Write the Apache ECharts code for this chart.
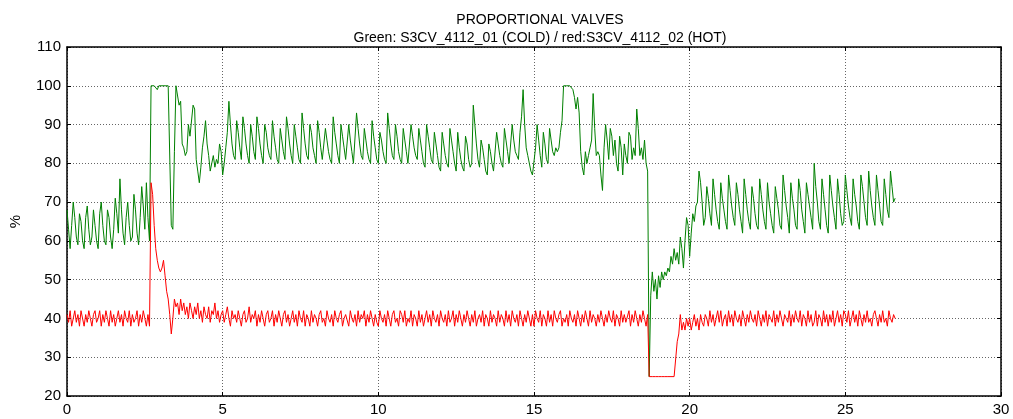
<!DOCTYPE html>
<html>
    <head>
        <meta charset="utf-8">
        <script src="https://cdn.jsdelivr.net/npm/echarts@6.0.0/dist/echarts.min.js"></script>
    </head>
    <body style="margin:0">
        <div id="main" style="width: 1013px; height: 419px;"></div>
        <script>
            // both signals are logged every 0.05 units of x; one row of 20 per unit
            var STEP = 0.05;

            // green: S3CV_4112_01 (COLD)
            var greenValues = [
                68, 63, 58, 64, 70, 66, 61, 59, 67, 65, 60, 58, 66, 69, 63, 59, 61, 68, 64, 60,
                58, 67, 70, 64, 60, 59, 68, 66, 61, 58, 63, 71, 67, 62, 76, 68, 62, 59, 66, 70,
                64, 60, 61, 72, 68, 62, 59, 66, 74, 69, 63, 75, 66, 60, 100, 100, 100, 100, 99, 100,
                100, 100, 100, 100, 100, 100, 100, 64, 63, 83, 100, 100, 95, 96, 85, 84, 82, 83, 90, 87,
                87, 95, 94, 81, 78, 75, 79, 84, 87, 91, 85, 82, 78, 80, 82, 79, 81, 80, 85, 83,
                77, 80, 84, 88, 96, 90, 85, 82, 81, 91, 88, 84, 81, 92, 89, 85, 82, 80, 90, 87,
                83, 81, 92, 89, 85, 82, 80, 90, 88, 84, 82, 81, 91, 87, 84, 81, 80, 89, 86, 83,
                81, 92, 89, 85, 82, 80, 90, 87, 84, 81, 80, 93, 89, 85, 82, 81, 90, 88, 84, 82,
                80, 91, 88, 84, 81, 81, 89, 86, 83, 81, 80, 92, 88, 85, 82, 80, 90, 87, 84, 81,
                81, 90, 86, 83, 80, 80, 93, 89, 85, 82, 81, 89, 86, 83, 81, 80, 91, 87, 84, 81,
                80, 88, 86, 83, 81, 80, 93, 89, 85, 82, 81, 90, 87, 83, 81, 80, 89, 86, 83, 80,
                80, 90, 87, 84, 82, 81, 89, 86, 83, 80, 79, 90, 87, 84, 81, 80, 88, 85, 82, 79,
                78, 88, 85, 82, 80, 79, 89, 86, 83, 80, 78, 88, 84, 81, 79, 78, 87, 85, 81, 79,
                80, 95, 90, 85, 81, 79, 86, 84, 81, 78, 77, 85, 83, 80, 78, 78, 88, 85, 82, 80,
                79, 89, 86, 83, 80, 80, 90, 86, 83, 82, 81, 88, 92, 99, 90, 84, 82, 80, 78, 77,
                77, 84, 90, 86, 82, 79, 88, 85, 81, 80, 89, 86, 83, 82, 84, 83, 84, 88, 91, 100,
                100, 100, 100, 100, 100, 99, 97, 94, 97, 93, 83, 79, 77, 83, 80, 82, 84, 86, 98, 89,
                82, 83, 82, 77, 73, 84, 90, 86, 81, 89, 87, 82, 86, 80, 78, 87, 84, 77, 85, 82,
                80, 88, 87, 81, 84, 82, 94, 89, 82, 84, 81, 86, 80, 78, 25, 46, 52, 47, 50, 45,
                51, 48, 52, 50, 52, 51, 53, 52, 56, 54, 58, 55, 57, 54, 61, 58, 53, 60, 66, 64,
                56, 62, 67, 65, 69, 70, 78, 75, 70, 64, 66, 74, 71, 67, 64, 76, 72, 68, 65, 63,
                75, 71, 68, 65, 63, 77, 73, 69, 66, 64, 75, 72, 68, 65, 62, 76, 72, 68, 65, 63,
                74, 71, 67, 64, 63, 76, 72, 68, 65, 63, 75, 70, 67, 64, 62, 74, 71, 68, 64, 63,
                77, 73, 69, 66, 62, 75, 71, 68, 64, 63, 76, 73, 68, 65, 62, 75, 72, 69, 66, 63,
                80, 74, 70, 65, 63, 76, 72, 68, 64, 62, 77, 73, 69, 66, 63, 76, 72, 67, 64, 65,
                77, 73, 69, 66, 64, 76, 72, 69, 65, 63, 77, 74, 70, 66, 64, 78, 73, 69, 66, 64,
                77, 73, 69, 65, 64, 76, 72, 68, 66, 78, 74, 70, 71
            ];

            // red: S3CV_4112_02 (HOT)
            var redValues = [
                41, 39, 42, 38, 40, 42, 39, 41, 38, 42, 40, 38, 41, 39, 42, 40, 38, 41, 42, 39,
                40, 42, 38, 41, 39, 42, 40, 38, 42, 39, 41, 38, 40, 42, 39, 41, 38, 42, 40, 39,
                42, 38, 41, 39, 40, 42, 38, 41, 39, 42, 40, 38, 41, 38, 75, 72, 64, 58, 55, 53,
                52, 53, 55, 51, 47, 45, 41, 36, 40, 45, 43, 44, 41, 45, 42, 44, 41, 43, 40, 44,
                42, 40, 43, 41, 44, 40, 42, 39, 43, 41, 40, 43, 39, 42, 41, 44, 40, 42, 39, 41,
                42, 39, 41, 43, 40, 38, 42, 40, 41, 39, 42, 40, 38, 41, 42, 39, 40, 43, 39, 41,
                40, 42, 38, 41, 39, 42, 40, 38, 41, 42, 39, 40, 42, 38, 41, 39, 42, 40, 38, 41,
                42, 39, 41, 38, 40, 42, 39, 41, 38, 42, 40, 39, 42, 38, 41, 40, 38, 42, 39, 41,
                40, 38, 41, 42, 39, 40, 38, 42, 40, 39, 41, 38, 42, 40, 39, 41, 42, 38, 40, 41,
                41, 38, 42, 40, 39, 41, 38, 42, 39, 41, 40, 42, 38, 41, 39, 42, 40, 38, 41, 39,
                38, 42, 40, 39, 41, 38, 42, 40, 38, 41, 42, 39, 40, 38, 42, 41, 39, 42, 38, 40,
                39, 42, 38, 41, 40, 38, 42, 39, 41, 38, 40, 42, 39, 41, 38, 42, 40, 39, 41, 38,
                42, 40, 39, 41, 38, 42, 39, 40, 42, 38, 41, 39, 42, 40, 38, 41, 39, 42, 40, 38,
                41, 39, 42, 38, 40, 41, 39, 42, 38, 41, 40, 38, 42, 39, 41, 40, 38, 42, 39, 41,
                40, 38, 42, 39, 41, 38, 42, 40, 39, 41, 38, 42, 40, 38, 41, 39, 42, 40, 38, 41,
                38, 42, 40, 39, 42, 38, 41, 40, 38, 42, 39, 41, 38, 42, 40, 39, 41, 42, 38, 40,
                39, 41, 38, 42, 40, 39, 41, 38, 42, 40, 38, 41, 39, 42, 40, 38, 42, 39, 41, 40,
                38, 41, 39, 42, 40, 38, 41, 39, 42, 40, 39, 42, 38, 41, 40, 38, 42, 39, 41, 39,
                39, 42, 38, 41, 39, 42, 40, 38, 41, 39, 42, 40, 38, 41, 25, 25, 25, 25, 25, 25,
                25, 25, 25, 25, 25, 25, 25, 25, 25, 25, 25, 25, 34, 36, 41, 37, 39, 37, 40, 38,
                40, 37, 39, 41, 38, 40, 37, 41, 39, 38, 41, 40, 38, 42, 39, 41, 38, 40, 42, 39,
                42, 38, 40, 41, 38, 42, 39, 41, 38, 42, 40, 39, 41, 38, 42, 40, 38, 41, 39, 42,
                40, 39, 41, 38, 42, 40, 38, 41, 39, 42, 38, 41, 40, 39, 42, 38, 41, 39, 42, 40,
                38, 41, 40, 39, 42, 38, 41, 39, 42, 40, 39, 42, 38, 41, 40, 38, 42, 39, 41, 38,
                39, 42, 38, 41, 40, 38, 42, 39, 41, 38, 41, 39, 42, 38, 40, 42, 39, 41, 38, 42,
                41, 39, 42, 38, 40, 42, 39, 41, 38, 42, 40, 38, 41, 39, 42, 39, 40, 38, 41, 42,
                40, 38, 41, 39, 42, 39, 40, 38, 42, 40, 39, 41, 40
            ];

            var titleLines = ['PROPORTIONAL VALVES', 'Green: S3CV_4112_01 (COLD) / red:S3CV_4112_02 (HOT)'];

            function toPoints(values) {
                var pts = [];
                for (var i = 0; i < values.length; i++) {
                    pts.push([+(i * STEP).toFixed(2), values[i]]);
                }
                return pts;
            }

            var chartDom = document.getElementById('main');
            var myChart = echarts.init(chartDom);
            var font = 'Liberation Sans, Arial, sans-serif';
            var tick = { inside: true, length: 4, lineStyle: { color: '#000', width: 1 } };
            var axisLine = { show: true, onZero: false, lineStyle: { color: '#000', width: 1.5 } };
            var grid = { show: true, lineStyle: { color: '#666', type: [1, 2], width: 1 } };

            var option = {
                animation: false,
                backgroundColor: '#fff',
                title: {
                    text: titleLines.join('\n'),
                    left: 535,
                    textAlign: 'center',
                    top: 6,
                    textStyle: { fontFamily: font, fontSize: 14, fontWeight: 'normal', color: '#000', lineHeight: 18 }
                },
                grid: { left: 64, right: 12, top: 47, bottom: 23 },
                xAxis: [{
                    type: 'value', min: 0, max: 30, interval: 5, position: 'bottom',
                    axisLine: axisLine, axisTick: tick, splitLine: grid,
                    axisLabel: { color: '#000', fontSize: 15, fontFamily: font, margin: 6 }
                }, {
                    type: 'value', min: 0, max: 30, interval: 5, position: 'top',
                    axisLine: axisLine, axisTick: tick, splitLine: { show: false },
                    axisLabel: { show: false }
                }],
                yAxis: [{
                    type: 'value', min: 20, max: 110, interval: 10, position: 'left',
                    name: '%', nameLocation: 'middle', nameGap: 44, nameRotate: 90,
                    nameTextStyle: { color: '#000', fontSize: 15, fontFamily: font },
                    axisLine: axisLine, axisTick: tick, splitLine: grid,
                    axisLabel: { color: '#000', fontSize: 15, fontFamily: font, margin: 6 }
                }, {
                    type: 'value', min: 20, max: 110, interval: 10, position: 'right',
                    axisLine: axisLine, axisTick: tick, splitLine: { show: false },
                    axisLabel: { show: false }
                }],
                series: [{
                    type: 'line',
                    name: 'COLD',
                    showSymbol: false,
                    data: toPoints(greenValues),
                    lineStyle: { color: '#008000', width: 1 },
                    itemStyle: { color: '#008000' }
                }, {
                    type: 'line',
                    name: 'HOT',
                    showSymbol: false,
                    data: toPoints(redValues),
                    lineStyle: { color: '#ff0000', width: 1 },
                    itemStyle: { color: '#ff0000' }
                }]
            };

            myChart.setOption(option);
        </script>
    </body>
</html>
